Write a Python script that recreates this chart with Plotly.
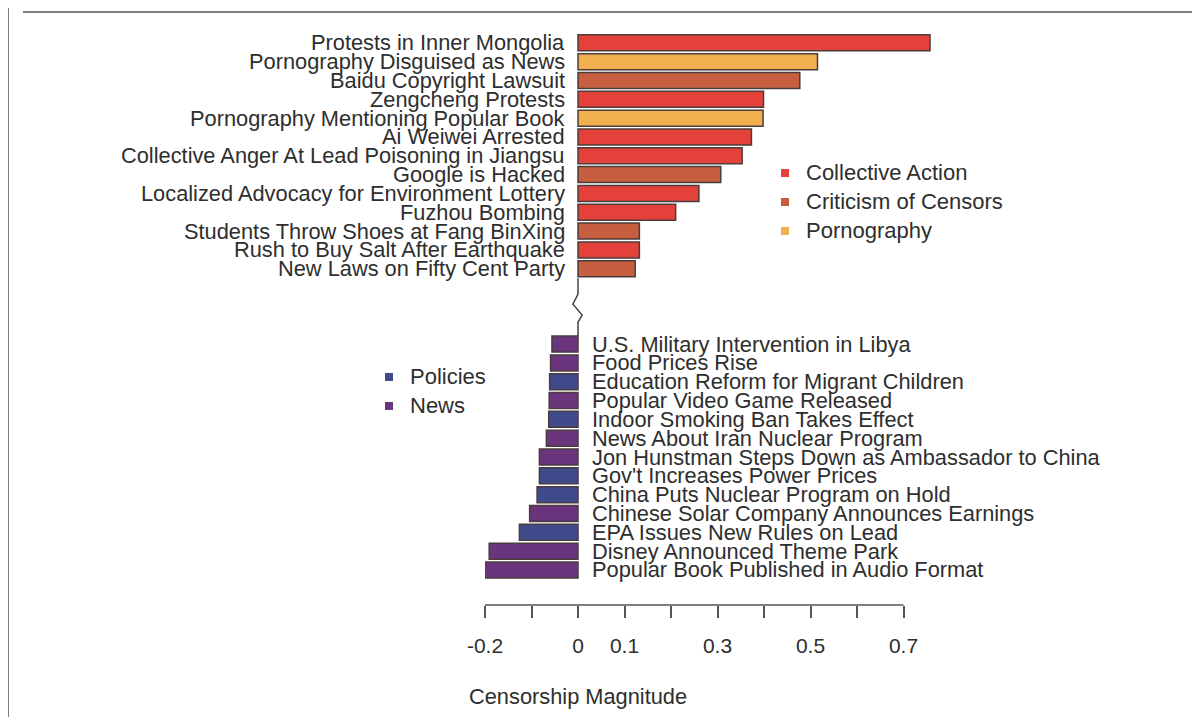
import plotly.graph_objects as go

# ---------------- data ----------------
top_labels = [
    "Protests in Inner Mongolia",
    "Pornography Disguised as News",
    "Baidu Copyright Lawsuit",
    "Zengcheng Protests",
    "Pornography Mentioning Popular Book",
    "Ai Weiwei Arrested",
    "Collective Anger At Lead Poisoning in Jiangsu",
    "Google is Hacked",
    "Localized Advocacy for Environment Lottery",
    "Fuzhou Bombing",
    "Students Throw Shoes at Fang BinXing",
    "Rush to Buy Salt After Earthquake",
    "New Laws on Fifty Cent Party",
]
top_values = [0.757, 0.515, 0.477, 0.399, 0.398, 0.373, 0.353, 0.307, 0.260, 0.210, 0.132, 0.132, 0.123]
top_groups = ["Collective Action", "Pornography", "Criticism of Censors", "Collective Action",
              "Pornography", "Collective Action", "Collective Action", "Criticism of Censors",
              "Collective Action", "Collective Action", "Criticism of Censors", "Collective Action",
              "Criticism of Censors"]

bottom_labels = [
    "U.S. Military Intervention in Libya",
    "Food Prices Rise",
    "Education Reform for Migrant Children",
    "Popular Video Game Released",
    "Indoor Smoking Ban Takes Effect",
    "News About Iran Nuclear Program",
    "Jon Hunstman Steps Down as Ambassador to China",
    "Gov't Increases Power Prices",
    "China Puts Nuclear Program on Hold",
    "Chinese Solar Company Announces Earnings",
    "EPA Issues New Rules on Lead",
    "Disney Announced Theme Park",
    "Popular Book Published in Audio Format",
]
bottom_values = [-0.056, -0.059, -0.061, -0.062, -0.063, -0.068, -0.083, -0.083, -0.088,
                 -0.104, -0.126, -0.191, -0.201]
bottom_groups = ["News", "News", "Policies", "News", "Policies", "News", "News", "Policies",
                 "Policies", "News", "Policies", "News", "News"]

top_legend = ["Collective Action", "Criticism of Censors", "Pornography"]
bottom_legend = ["Policies", "News"]

tick_vals = [-0.2, -0.1, 0.0, 0.1, 0.2, 0.3, 0.4, 0.5, 0.6, 0.7]
tick_text = ["-0.2", "", "0", "0.1", "", "0.3", "", "0.5", "", "0.7"]

colors = {
    "Collective Action": "#E5413B",
    "Criticism of Censors": "#C65E3F",
    "Pornography": "#F2AF4E",
    "Policies": "#3F4A8A",
    "News": "#6B357E",
}

# ---------------- layout geometry (screen pixels) ----------------
W, H = 1192, 709            # page adds an 8px body margin
ML, MT = 477, 16
PW, PH = 465, 581.1         # plot area size
MR = W - ML - PW
MB = H - MT - PH
X_RANGE = [-0.2, 0.8]
SX0, SY1 = ML + 8, MT + 8 + PH   # screen x of plot left, screen y of plot bottom


def paper_x(sx):
    return (sx - SX0) / PW


def paper_y(sy):
    return (SY1 - sy) / PH


GAP_ROWS = 4
top_rows = list(range(len(top_labels)))
bottom_rows = [len(top_labels) - 1 + GAP_ROWS + i for i in range(len(bottom_labels))]

FONT = "Liberation Sans, Arial, sans-serif"
TXT = "#2e2e2e"
EDGE = "#4a3c3c"
AXC = "#555555"
LBL = 21.8

fig = go.Figure()

# bars, one trace per category
for grp in top_legend:
    ys = [r for r, g in zip(top_rows, top_groups) if g == grp]
    xs = [v for v, g in zip(top_values, top_groups) if g == grp]
    fig.add_trace(go.Bar(x=xs, y=ys, orientation="h", width=0.85, base=0, name=grp,
                         marker=dict(color=colors[grp], line=dict(color=EDGE, width=1.5)),
                         showlegend=False, hoverinfo="skip"))
for grp in bottom_legend:
    ys = [r for r, g in zip(bottom_rows, bottom_groups) if g == grp]
    xs = [v for v, g in zip(bottom_values, bottom_groups) if g == grp]
    fig.add_trace(go.Bar(x=xs, y=ys, orientation="h", width=0.85, base=0, name=grp,
                         marker=dict(color=colors[grp], line=dict(color=EDGE, width=1.5)),
                         showlegend=False, hoverinfo="skip"))

# bar labels
for lab, r in zip(top_labels, top_rows):
    fig.add_annotation(x=0, y=r, text=lab, xref="x", yref="y", showarrow=False,
                       xanchor="right", yanchor="middle", xshift=-11,
                       font=dict(family=FONT, size=LBL, color=TXT))
for lab, r in zip(bottom_labels, bottom_rows):
    fig.add_annotation(x=0, y=r, text=lab, xref="x", yref="y", showarrow=False,
                       xanchor="left", yanchor="middle", xshift=12,
                       font=dict(family=FONT, size=LBL, color=TXT))


# legends (drawn manually: square key + text)
def draw_legend(items, sq_x, text_x, y0, step):
    for i, grp in enumerate(items):
        sy = y0 + i * step
        fig.add_shape(type="rect", xref="paper", yref="paper",
                      x0=paper_x(sq_x - 4), x1=paper_x(sq_x + 4),
                      y0=paper_y(sy + 4), y1=paper_y(sy - 4),
                      fillcolor=colors[grp], line=dict(width=0))
        fig.add_annotation(x=paper_x(text_x), y=paper_y(sy), xref="paper", yref="paper",
                           text=grp, showarrow=False, xanchor="left", yanchor="middle",
                           font=dict(family=FONT, size=22, color=TXT))


draw_legend(top_legend, 785, 804, 173, 29)
draw_legend(bottom_legend, 389, 408, 377, 29)

# axis break marker
y_top_end = top_rows[-1] + 0.5
y_bot_start = bottom_rows[0] - 0.42
path = (f"M 0 {y_top_end} L 0 13.35 L -0.011 13.88 L 0.009 14.46 L 0 14.83 "
        f"L 0 {y_bot_start}")
fig.add_shape(type="path", path=path, xref="x", yref="y",
              line=dict(color="#444444", width=1.5))

# axis line spanning only the tick range (R-style)
fig.add_shape(type="line", xref="x", yref="paper", x0=tick_vals[0], x1=tick_vals[-1],
              y0=0, y1=0, line=dict(color=AXC, width=1.5))

# axis title
fig.add_annotation(x=0, y=paper_y(697), xref="x", yref="paper", text="Censorship Magnitude",
                   showarrow=False, xanchor="center", yanchor="middle",
                   font=dict(family=FONT, size=LBL, color=TXT))

# frame lines
fig.add_shape(type="line", xref="paper", yref="paper", x0=paper_x(8), x1=paper_x(8),
              y0=paper_y(-5), y1=paper_y(725), line=dict(color=AXC, width=1.5))
fig.add_shape(type="line", xref="paper", yref="paper", x0=paper_x(23), x1=paper_x(1197),
              y0=paper_y(12), y1=paper_y(12), line=dict(color=AXC, width=1.5))

fig.update_layout(
    width=W, height=H,
    margin=dict(l=ML, r=MR, t=MT, b=MB),
    paper_bgcolor="white", plot_bgcolor="white",
    barmode="overlay", showlegend=False,
    font=dict(family=FONT, size=21, color=TXT),
    xaxis=dict(range=X_RANGE, tickvals=tick_vals, ticktext=tick_text,
               showgrid=False, zeroline=False, showline=False,
               ticks="outside", ticklen=12, tickwidth=1.5,
               tickcolor=AXC, ticklabelstandoff=10,
               tickfont=dict(family=FONT, size=21, color=TXT)),
    yaxis=dict(range=[bottom_rows[-1] + 1.86, -1], showgrid=False, zeroline=False,
               showline=False, showticklabels=False, ticks=""),
)

fig.write_html("out.html")
